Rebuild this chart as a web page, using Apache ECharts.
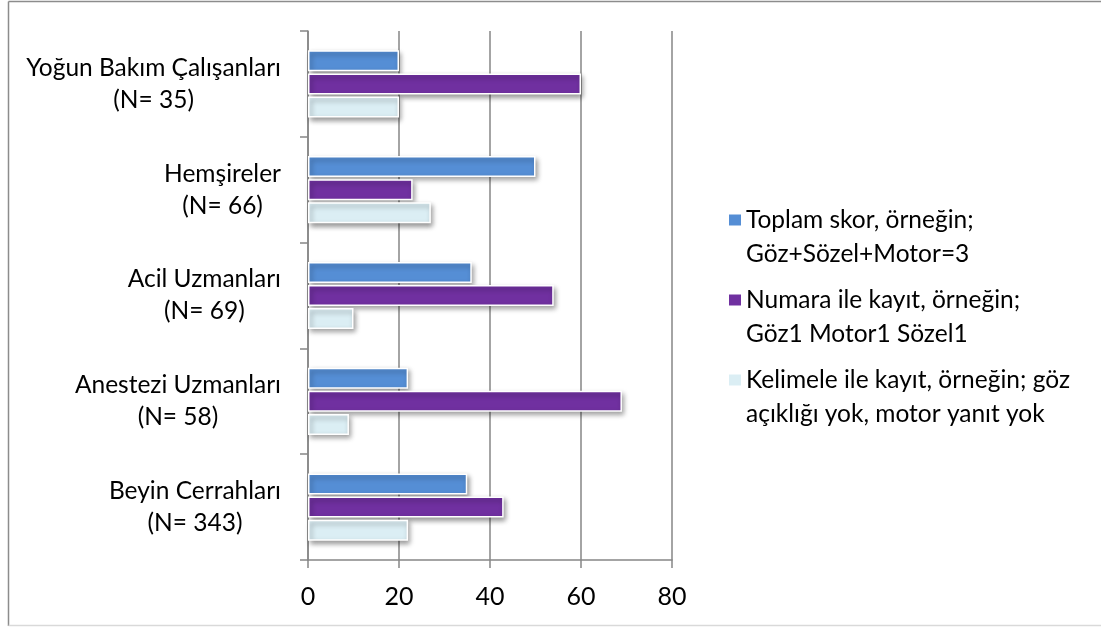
<!DOCTYPE html>
<html>
<head>
<meta charset="utf-8">
<script src="https://cdn.jsdelivr.net/npm/echarts@6/dist/echarts.min.js"></script>
<style>
html,body{margin:0;padding:0;background:#fff;}
#chart{width:1101px;height:627px;}
</style>
</head>
<body>
<div id="chart"></div>
<script>
// Categories, top to bottom
const categories = [
  "Yoğun Bakım Çalışanları\n(N= 35)",
  "Hemşireler\n(N= 66)",
  "Acil Uzmanları\n(N= 69)",
  "Anestezi Uzmanları\n(N= 58)",
  "Beyin Cerrahları\n(N= 343)"
];
const seriesNames = [
  "Toplam skor, örneğin;\nGöz+Sözel+Motor=3",
  "Numara ile kayıt, örneğin;\nGöz1 Motor1 Sözel1",
  "Kelimele ile kayıt, örneğin; göz\naçıklığı yok, motor yanıt yok"
];
const toplamSkor = [20, 50, 36, 22, 35];
const numaraIleKayit = [60, 23, 54, 69, 43];
const kelimeIleKayit = [20, 27, 10, 9, 22];
const xTicks = [0, 20, 40, 60, 80];

const colors = ["#558ED5", "#7030A0", "#DBEEF4"];
const FONT = "Lato";
const seriesData = [toplamSkor, numaraIleKayit, kelimeIleKayit];

const chart = echarts.init(document.getElementById('chart'));
chart.setOption({
  animation: false,
  backgroundColor: '#fff',
  textStyle: { fontFamily: FONT },
  grid: { left: 308, right: 429, top: 31, bottom: 67, containLabel: false },
  legend: {
    orient: 'vertical',
    left: 729,
    top: 169,
    padding: 0,
    itemWidth: 12,
    itemHeight: 11,
    itemGap: -22,
    icon: 'rect',
    data: seriesNames,
    itemStyle: { borderWidth: 0, shadowBlur: 0, shadowOffsetX: 0, shadowOffsetY: 0 },
    formatter: function (name) { return '\n' + name; },
    textStyle: {
      fontFamily: FONT, fontSize: 24.5, color: '#000',
      lineHeight: 34
    }
  },
  xAxis: {
    type: 'value',
    min: xTicks[0], max: xTicks[xTicks.length - 1], interval: 20,
    axisLine: { show: true, lineStyle: { color: '#868686', width: 1.5 } },
    axisTick: { show: true, length: 8, lineStyle: { color: '#868686', width: 1.5 } },
    splitLine: { show: true, lineStyle: { color: '#868686', width: 1.5 } },
    axisLabel: { fontFamily: FONT, fontSize: 25, color: '#000', margin: 24 }
  },
  yAxis: {
    type: 'category',
    inverse: true,
    data: categories,
    axisLine: { show: true, lineStyle: { color: '#868686', width: 1.5 } },
    axisTick: { show: true, length: 8, lineStyle: { color: '#868686', width: 1.5 } },
    axisLabel: {
      margin: 27,
      align: 'right',
      formatter: function (v) {
        return v.split('\n').map(function (s) { return '{c|' + s + '}'; }).join('\n');
      },
      rich: {
        c: { align: 'center', fontFamily: FONT, fontSize: 24.5, color: '#000', lineHeight: 32 }
      }
    }
  },
  series: seriesNames.map(function (name, i) {
    return {
      name: name,
      type: 'bar',
      data: seriesData[i],
      barWidth: 21,
      barGap: '10%',
      itemStyle: {
        color: colors[i],
        borderColor: '#ffffff',
        borderWidth: 1.5,
        shadowBlur: 5,
        shadowOffsetX: 2,
        shadowOffsetY: 3,
        shadowColor: 'rgba(0,0,0,0.4)'
      }
    };
  }),
  graphic: [
    { type: 'line', shape: { x1: 8.5, y1: 1.5, x2: 1101, y2: 1.5 }, style: { stroke: '#8c8c8c', lineWidth: 1.5 } },
    { type: 'line', shape: { x1: 8.5, y1: 1.5, x2: 8.5, y2: 626 }, style: { stroke: '#8c8c8c', lineWidth: 1.5 } },
    { type: 'line', shape: { x1: 8.5, y1: 625.5, x2: 1101, y2: 625.5 }, style: { stroke: '#d9d9d9', lineWidth: 1.5 } }
  ]
});
</script>
</body>
</html>
